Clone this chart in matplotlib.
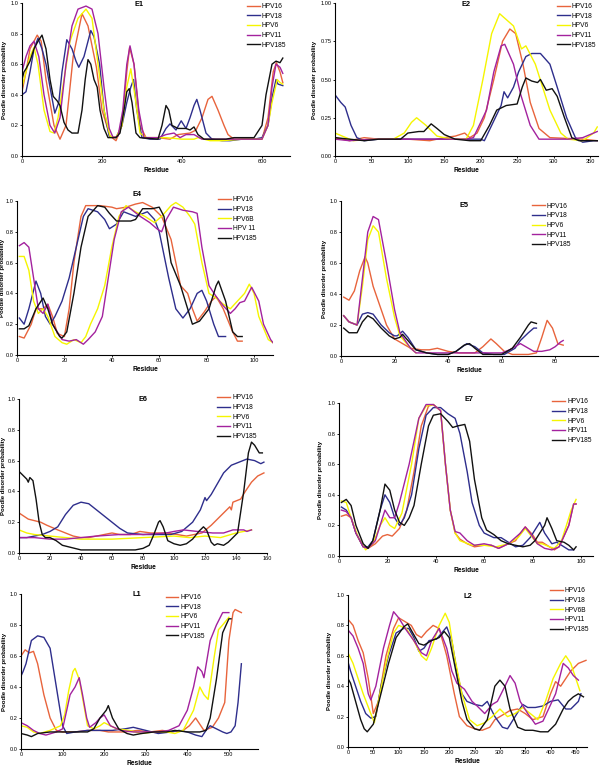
import matplotlib
matplotlib.use("Agg")
import matplotlib.pyplot as plt
from matplotlib.ticker import FormatStrFormatter

plt.rcParams["font.family"] = ["Liberation Sans", "DejaVu Sans"]

# ---------------- data (residue, disorder probability) ----------------
# E1
E1_X16 = [0, 10, 20, 38, 48, 60, 80, 95, 110, 128, 150, 165, 186, 200, 220, 235, 250, 262, 269, 280, 295, 310, 340, 370, 390, 420, 435, 450, 465, 475, 490, 505, 515, 530, 560, 600, 615, 628, 636, 645, 652]
E1_Y16 = [0.42, 0.55, 0.7, 0.79, 0.75, 0.5, 0.2, 0.11, 0.2, 0.65, 0.93, 0.85, 0.58, 0.3, 0.13, 0.1, 0.2, 0.55, 0.71, 0.6, 0.2, 0.12, 0.12, 0.11, 0.14, 0.15, 0.17, 0.25, 0.37, 0.39, 0.3, 0.2, 0.14, 0.11, 0.11, 0.11, 0.25, 0.55, 0.61, 0.55, 0.48]
E1_X18 = [0, 10, 20, 30, 40, 50, 60, 70, 82, 92, 100, 112, 125, 135, 142, 155, 165, 172, 180, 194, 205, 218, 235, 250, 262, 272, 279, 287, 300, 320, 345, 360, 370, 385, 398, 410, 420, 430, 437, 445, 460, 475, 500, 520, 550, 580, 600, 615, 625, 635, 640, 652]
E1_Y18 = [0.40, 0.42, 0.55, 0.7, 0.77, 0.7, 0.6, 0.45, 0.28, 0.35, 0.55, 0.76, 0.7, 0.62, 0.58, 0.65, 0.75, 0.82, 0.78, 0.6, 0.3, 0.13, 0.12, 0.2, 0.35, 0.45, 0.5, 0.3, 0.12, 0.11, 0.11, 0.18, 0.21, 0.17, 0.23, 0.18, 0.25, 0.33, 0.37, 0.3, 0.15, 0.11, 0.1, 0.1, 0.11, 0.11, 0.12, 0.2, 0.38, 0.5, 0.47, 0.46]
E1_X6 = [0, 10, 20, 30, 40, 55, 70, 80, 90, 105, 120, 140, 160, 175, 190, 205, 220, 235, 250, 262, 272, 282, 295, 310, 360, 400, 430, 440, 470, 500, 550, 600, 615, 625, 638, 645, 652]
E1_Y6 = [0.45, 0.55, 0.65, 0.71, 0.6, 0.3, 0.16, 0.15, 0.25, 0.5, 0.75, 0.9, 0.96, 0.9, 0.6, 0.3, 0.13, 0.12, 0.2, 0.45, 0.57, 0.4, 0.15, 0.12, 0.12, 0.11, 0.11, 0.12, 0.1, 0.1, 0.11, 0.11, 0.2, 0.35, 0.5, 0.48, 0.47]
E1_X11 = [0, 10, 20, 30, 42, 55, 70, 82, 95, 110, 125, 140, 160, 175, 190, 205, 218, 228, 240, 252, 262, 270, 280, 292, 305, 340, 360, 380, 395, 410, 430, 450, 500, 550, 600, 615, 625, 635, 645, 652]
E1_Y11 = [0.55, 0.65, 0.72, 0.75, 0.65, 0.4, 0.2, 0.15, 0.25, 0.6, 0.85, 0.96, 0.98, 0.96, 0.8, 0.45, 0.18, 0.12, 0.13, 0.3, 0.6, 0.72, 0.6, 0.3, 0.12, 0.12, 0.14, 0.15, 0.12, 0.14, 0.14, 0.11, 0.11, 0.11, 0.11, 0.2, 0.45, 0.6, 0.58, 0.54]
E1_X185 = [0, 5, 10, 20, 30, 40, 50, 60, 70, 78, 88, 95, 105, 115, 125, 140, 150, 158, 165, 172, 180, 188, 195, 205, 215, 235, 245, 255, 262, 268, 275, 285, 295, 340, 350, 360, 367, 375, 390, 410, 420, 430, 440, 455, 510, 530, 580, 600, 610, 625, 635, 645, 652]
E1_Y185 = [0.5, 0.55, 0.57, 0.62, 0.7, 0.75, 0.79, 0.7, 0.5, 0.39, 0.36, 0.33, 0.22, 0.17, 0.15, 0.15, 0.3, 0.5, 0.63, 0.6, 0.5, 0.45, 0.3, 0.18, 0.12, 0.12, 0.15, 0.3, 0.42, 0.44, 0.35, 0.15, 0.12, 0.11, 0.2, 0.33, 0.3, 0.2, 0.18, 0.18, 0.17, 0.19, 0.14, 0.11, 0.11, 0.12, 0.12, 0.2, 0.4, 0.6, 0.62, 0.61, 0.64]

# E2
E2_X16 = [0, 10, 20, 30, 40, 60, 100, 130, 150, 165, 178, 185, 195, 205, 218, 230, 240, 248, 258, 268, 280, 295, 340, 360]
E2_Y16 = [0.12, 0.11, 0.1, 0.11, 0.12, 0.11, 0.11, 0.1, 0.12, 0.13, 0.15, 0.12, 0.15, 0.25, 0.5, 0.75, 0.83, 0.8, 0.6, 0.35, 0.18, 0.12, 0.11, 0.1]
E2_X18 = [0, 8, 14, 22, 30, 40, 60, 120, 200, 205, 215, 225, 228, 232, 237, 245, 252, 262, 270, 282, 295, 305, 318, 330, 340, 355, 360]
E2_Y18 = [0.40, 0.35, 0.32, 0.2, 0.12, 0.10, 0.11, 0.11, 0.11, 0.1, 0.2, 0.3, 0.33, 0.42, 0.38, 0.45, 0.55, 0.65, 0.67, 0.67, 0.6, 0.45, 0.25, 0.12, 0.09, 0.1, 0.1]
E2_X6 = [0, 10, 25, 50, 80, 95, 105, 112, 125, 140, 160, 180, 190, 203, 215, 226, 245, 256, 262, 275, 295, 310, 320, 340, 355, 360]
E2_Y6 = [0.15, 0.13, 0.10, 0.11, 0.11, 0.15, 0.22, 0.25, 0.2, 0.13, 0.11, 0.11, 0.2, 0.5, 0.8, 0.93, 0.85, 0.7, 0.72, 0.6, 0.3, 0.15, 0.11, 0.1, 0.15, 0.19]
E2_X11 = [0, 20, 50, 180, 190, 208, 218, 228, 233, 245, 255, 268, 280, 320, 340, 355, 360]
E2_Y11 = [0.11, 0.10, 0.11, 0.11, 0.12, 0.3, 0.55, 0.72, 0.73, 0.6, 0.4, 0.2, 0.11, 0.11, 0.12, 0.15, 0.16]
E2_X185 = [0, 20, 40, 60, 90, 100, 115, 122, 132, 140, 150, 165, 185, 200, 212, 222, 235, 250, 257, 262, 270, 278, 282, 290, 298, 305, 315, 325, 335, 360]
E2_Y185 = [0.12, 0.11, 0.1, 0.11, 0.11, 0.15, 0.16, 0.16, 0.21, 0.18, 0.14, 0.11, 0.1, 0.1, 0.2, 0.3, 0.33, 0.34, 0.45, 0.51, 0.49, 0.48, 0.5, 0.43, 0.44, 0.39, 0.25, 0.12, 0.1, 0.1]

# E4
E4_X16 = [1, 3, 6, 8, 11, 13, 15, 17, 20, 22, 24, 27, 29, 35, 40, 42, 46, 50, 53, 57, 61, 65, 69, 72, 74, 76, 79, 82, 84, 87, 91, 93, 95]
E4_Y16 = [0.12, 0.11, 0.2, 0.3, 0.3, 0.33, 0.25, 0.14, 0.12, 0.3, 0.6, 0.9, 0.97, 0.97, 0.96, 0.95, 0.96, 0.98, 0.99, 0.96, 0.9, 0.75, 0.45, 0.4, 0.3, 0.22, 0.28, 0.35, 0.38, 0.3, 0.15, 0.09, 0.09]
E4_X18 = [1, 3, 5, 8, 10, 12, 14, 16, 19, 22, 25, 28, 30, 34, 37, 39, 42, 45, 50, 55, 58, 60, 62, 64, 67, 70, 73, 76, 78, 80, 83, 85, 88]
E4_Y18 = [0.24, 0.2, 0.3, 0.48, 0.4, 0.25, 0.2, 0.25, 0.35, 0.5, 0.7, 0.9, 0.95, 0.93, 0.88, 0.82, 0.85, 0.93, 0.9, 0.93, 0.88, 0.8, 0.65, 0.5, 0.3, 0.24, 0.3, 0.4, 0.42, 0.35, 0.2, 0.12, 0.12]
E4_X6 = [1, 3, 5, 7, 9, 11, 13, 16, 19, 21, 24, 27, 29, 31, 34, 37, 40, 43, 46, 50, 54, 58, 61, 65, 67, 70, 73, 75, 78, 81, 84, 87, 90, 93, 96, 98, 100, 102, 106, 108]
E4_Y6 = [0.64, 0.64, 0.55, 0.35, 0.27, 0.3, 0.25, 0.12, 0.08, 0.07, 0.1, 0.08, 0.12, 0.2, 0.3, 0.45, 0.7, 0.9, 0.97, 0.93, 0.9, 0.86, 0.9, 0.97, 0.99, 0.96, 0.9, 0.85, 0.6, 0.4, 0.37, 0.33, 0.3, 0.35, 0.4, 0.46, 0.4, 0.25, 0.1, 0.08]
E4_X11 = [1, 3, 5, 7, 9, 11, 13, 15, 19, 22, 25, 28, 30, 33, 36, 38, 41, 44, 47, 52, 56, 59, 61, 63, 66, 70, 74, 76, 78, 81, 84, 87, 90, 92, 94, 96, 99, 102, 104, 107, 108]
E4_Y11 = [0.71, 0.73, 0.7, 0.5, 0.3, 0.27, 0.33, 0.2, 0.1, 0.09, 0.1, 0.07, 0.1, 0.15, 0.25, 0.45, 0.75, 0.93, 0.96, 0.9, 0.86, 0.82, 0.8, 0.88, 0.96, 0.94, 0.93, 0.92, 0.7, 0.45, 0.38, 0.32, 0.27, 0.3, 0.34, 0.35, 0.44, 0.35, 0.2, 0.1, 0.08]
E4_X185 = [1, 3, 5, 8, 11, 13, 15, 18, 19, 21, 24, 27, 30, 34, 37, 39, 42, 45, 48, 50, 53, 57, 60, 62, 65, 69, 72, 74, 77, 81, 84, 85, 88, 91, 93, 95]
E4_Y185 = [0.17, 0.17, 0.19, 0.3, 0.37, 0.3, 0.2, 0.12, 0.11, 0.15, 0.4, 0.7, 0.9, 0.97, 0.96, 0.92, 0.87, 0.87, 0.87, 0.88, 0.95, 0.95, 0.96, 0.9, 0.6, 0.45, 0.3, 0.2, 0.22, 0.3, 0.45, 0.48, 0.35, 0.15, 0.12, 0.12]

# E5
E5_X16 = [1, 3, 5, 7, 9, 10, 12, 15, 17, 20, 23, 26, 30, 33, 36, 40, 44, 50, 53, 56, 58, 61, 64, 70, 73, 75, 77, 79, 81, 83]
E5_Y16 = [0.38, 0.36, 0.42, 0.55, 0.64, 0.6, 0.45, 0.3, 0.2, 0.11, 0.08, 0.05, 0.04, 0.04, 0.05, 0.03, 0.02, 0.02, 0.06, 0.11, 0.08, 0.03, 0.01, 0.01, 0.02, 0.12, 0.23, 0.18, 0.08, 0.07]
E5_X18 = [1, 3, 6, 8, 10, 12, 15, 18, 20, 21, 23, 25, 28, 32, 36, 40, 43, 47, 50, 53, 57, 61, 65, 67, 70, 72, 73]
E5_Y18 = [0.26, 0.22, 0.2, 0.27, 0.28, 0.27, 0.2, 0.15, 0.13, 0.13, 0.16, 0.12, 0.04, 0.02, 0.01, 0.01, 0.03, 0.08, 0.06, 0.02, 0.01, 0.01, 0.05, 0.1, 0.15, 0.18, 0.18]
E5_X6 = [1, 3, 6, 8, 10, 12, 14, 17, 20, 22, 24, 26, 28]
E5_Y6 = [0.26, 0.22, 0.2, 0.45, 0.75, 0.84, 0.8, 0.5, 0.25, 0.13, 0.09, 0.05, 0.02]
E5_X11 = [1, 3, 6, 8, 10, 12, 14, 17, 20, 22, 24, 26, 28, 40, 55, 60, 63, 65, 67, 69, 72, 75, 78, 80, 82, 83]
E5_Y11 = [0.26, 0.22, 0.2, 0.5, 0.8, 0.9, 0.88, 0.6, 0.3, 0.15, 0.1, 0.05, 0.02, 0.02, 0.02, 0.02, 0.04, 0.06, 0.08, 0.06, 0.03, 0.03, 0.04, 0.06, 0.09, 0.1]
E5_X185 = [1, 3, 6, 8, 10, 12, 15, 18, 20, 22, 23, 25, 28, 32, 36, 40, 43, 46, 48, 50, 53, 60, 64, 67, 70, 71, 73]
E5_Y185 = [0.18, 0.15, 0.15, 0.22, 0.26, 0.24, 0.18, 0.13, 0.11, 0.12, 0.14, 0.1, 0.04, 0.02, 0.01, 0.01, 0.03, 0.07, 0.08, 0.05, 0.01, 0.01, 0.05, 0.12, 0.2, 0.22, 0.21]

# E6
E6_X16 = [0, 3, 6, 10, 14, 18, 25, 30, 35, 40, 45, 50, 55, 60, 65, 72, 78, 85, 95, 102, 108, 113, 118, 124, 128, 132, 136, 137, 138, 143, 146, 150, 154, 158]
E6_Y16 = [0.26, 0.24, 0.22, 0.21, 0.2, 0.18, 0.15, 0.13, 0.11, 0.1, 0.1, 0.11, 0.12, 0.13, 0.12, 0.12, 0.14, 0.13, 0.13, 0.12, 0.11, 0.12, 0.13, 0.18, 0.22, 0.26, 0.3, 0.28, 0.33, 0.35, 0.4, 0.46, 0.5, 0.52]
E6_X18 = [0, 5, 10, 15, 20, 25, 30, 35, 40, 45, 50, 55, 60, 65, 70, 80, 90, 98, 105, 112, 117, 120, 121, 124, 128, 132, 137, 142, 147, 152, 156, 158]
E6_Y18 = [0.1, 0.1, 0.11, 0.12, 0.14, 0.17, 0.25, 0.31, 0.33, 0.32, 0.28, 0.24, 0.2, 0.16, 0.13, 0.12, 0.12, 0.12, 0.14, 0.2, 0.28, 0.36, 0.34, 0.38, 0.45, 0.52, 0.57, 0.59, 0.61, 0.6, 0.58, 0.59]
E6_X6 = [0, 5, 10, 20, 30, 40, 60, 80, 100, 110, 120, 130, 140, 150]
E6_Y6 = [0.15, 0.13, 0.12, 0.11, 0.1, 0.09, 0.09, 0.1, 0.11, 0.1, 0.11, 0.1, 0.13, 0.15]
E6_X11 = [0, 10, 20, 30, 40, 50, 65, 80, 95, 100, 106, 115, 125, 132, 138, 145, 147, 150]
E6_Y11 = [0.1, 0.1, 0.09, 0.09, 0.1, 0.11, 0.12, 0.12, 0.13, 0.14, 0.15, 0.14, 0.13, 0.13, 0.15, 0.15, 0.14, 0.15]
E6_X185 = [0, 3, 5, 6, 7, 9, 11, 13, 15, 17, 20, 24, 28, 32, 36, 40, 50, 60, 70, 75, 80, 84, 87, 90, 91, 93, 96, 100, 104, 108, 112, 116, 119, 121, 124, 126, 128, 132, 135, 138, 141, 145, 148, 150, 152, 155, 157]
E6_Y185 = [0.53, 0.5, 0.48, 0.46, 0.49, 0.47, 0.35, 0.2, 0.12, 0.1, 0.1, 0.08, 0.05, 0.04, 0.03, 0.02, 0.02, 0.02, 0.02, 0.02, 0.03, 0.05, 0.12, 0.2, 0.21, 0.17, 0.08, 0.06, 0.05, 0.06, 0.09, 0.14, 0.17, 0.15, 0.07, 0.05, 0.06, 0.05, 0.07, 0.1, 0.13, 0.4, 0.65, 0.72, 0.7, 0.65, 0.65]

# E7
E7_X16 = [1, 3, 5, 7, 10, 12, 15, 18, 20, 22, 25, 28, 31, 34, 37, 39, 42, 44, 46, 48, 50, 53, 56, 60, 63, 66, 70, 73, 75, 77, 80, 82, 84, 87, 89, 91, 95, 97, 98]
E7_Y16 = [0.26, 0.27, 0.25, 0.15, 0.06, 0.05, 0.08, 0.13, 0.14, 0.13, 0.18, 0.3, 0.55, 0.85, 0.98, 0.99, 0.95, 0.6, 0.3, 0.15, 0.11, 0.08, 0.06, 0.07, 0.07, 0.05, 0.08, 0.1, 0.15, 0.19, 0.14, 0.09, 0.09, 0.06, 0.04, 0.06, 0.2, 0.34, 0.34]
E7_X18 = [1, 3, 5, 7, 10, 12, 14, 17, 19, 21, 23, 25, 27, 30, 33, 36, 39, 42, 45, 48, 50, 53, 55, 58, 60, 64, 67, 70, 73, 76, 79, 83, 85, 88, 90, 95, 97]
E7_Y18 = [0.32, 0.3, 0.25, 0.15, 0.06, 0.06, 0.1, 0.3, 0.4, 0.35, 0.25, 0.2, 0.25, 0.4, 0.7, 0.92, 0.97, 0.97, 0.93, 0.9, 0.8, 0.55, 0.35, 0.2, 0.15, 0.12, 0.12, 0.09, 0.06, 0.07, 0.12, 0.22, 0.15, 0.08, 0.09, 0.04, 0.04]
E7_X6 = [1, 3, 5, 8, 11, 14, 17, 19, 21, 23, 26, 30, 33, 36, 39, 42, 44, 46, 48, 50, 55, 60, 65, 70, 74, 77, 80, 82, 84, 87, 89, 92, 96, 98]
E7_Y6 = [0.36, 0.35, 0.25, 0.12, 0.04, 0.08, 0.2, 0.25, 0.2, 0.18, 0.28, 0.6, 0.9, 0.98, 0.99, 0.95, 0.6, 0.3, 0.15, 0.1, 0.07, 0.07, 0.06, 0.08, 0.12, 0.18, 0.12, 0.08, 0.08, 0.06, 0.05, 0.1, 0.3, 0.37]
E7_X11 = [1, 3, 5, 7, 10, 12, 15, 18, 19, 21, 23, 25, 29, 33, 36, 39, 42, 44, 46, 48, 50, 53, 56, 60, 63, 66, 70, 75, 77, 79, 82, 85, 88, 91, 95, 97, 98]
E7_Y11 = [0.3, 0.29, 0.25, 0.15, 0.06, 0.05, 0.1, 0.25, 0.3, 0.25, 0.25, 0.35, 0.6, 0.9, 0.99, 0.99, 0.95, 0.6, 0.3, 0.16, 0.15, 0.1, 0.07, 0.08, 0.07, 0.05, 0.08, 0.15, 0.19, 0.15, 0.08, 0.05, 0.04, 0.06, 0.2, 0.34, 0.34]
E7_X185 = [1, 3, 5, 7, 10, 12, 14, 17, 19, 21, 23, 25, 27, 29, 31, 34, 37, 39, 42, 45, 47, 49, 52, 54, 56, 59, 61, 64, 67, 70, 73, 76, 79, 81, 85, 86, 88, 90, 93, 95, 97, 98]
E7_Y185 = [0.35, 0.37, 0.33, 0.2, 0.08, 0.05, 0.1, 0.3, 0.47, 0.43, 0.3, 0.22, 0.2, 0.25, 0.33, 0.6, 0.85, 0.92, 0.93, 0.88, 0.84, 0.85, 0.86, 0.75, 0.5, 0.25, 0.17, 0.14, 0.1, 0.08, 0.07, 0.06, 0.07, 0.1, 0.2, 0.25, 0.18, 0.1, 0.09, 0.07, 0.04, 0.06]

# L1
L1_X16 = [0, 10, 20, 30, 40, 55, 70, 85, 100, 130, 160, 190, 210, 250, 280, 310, 340, 360, 390, 405, 420, 425, 440, 460, 475, 490, 500, 510, 515, 530]
L1_Y16 = [0.6, 0.64, 0.62, 0.63, 0.55, 0.35, 0.2, 0.12, 0.11, 0.11, 0.12, 0.12, 0.11, 0.11, 0.12, 0.11, 0.12, 0.11, 0.12, 0.15, 0.2, 0.18, 0.12, 0.14, 0.2, 0.3, 0.7, 0.88, 0.9, 0.88]
L1_X18 = [0, 5, 12, 25, 40, 55, 70, 85, 100, 110, 130, 160, 190, 220, 250, 270, 300, 330, 360, 380, 400, 420, 435, 445, 455, 470, 485, 495, 505, 515, 522, 530]
L1_Y18 = [0.47, 0.5, 0.55, 0.7, 0.73, 0.72, 0.65, 0.4, 0.15, 0.1, 0.11, 0.12, 0.12, 0.12, 0.13, 0.14, 0.12, 0.1, 0.11, 0.12, 0.11, 0.09, 0.08, 0.12, 0.15, 0.13, 0.11, 0.1, 0.11, 0.15, 0.3, 0.55]
L1_X6 = [0, 15, 30, 45, 70, 95, 105, 115, 125, 130, 140, 150, 160, 175, 190, 200, 215, 230, 260, 290, 320, 350, 370, 390, 415, 430, 440, 450, 465, 475, 485, 500]
L1_Y6 = [0.15, 0.14, 0.11, 0.1, 0.12, 0.15, 0.22, 0.38, 0.5, 0.52, 0.45, 0.3, 0.15, 0.13, 0.15, 0.17, 0.15, 0.13, 0.12, 0.1, 0.11, 0.11, 0.1, 0.12, 0.25, 0.4, 0.35, 0.32, 0.6, 0.77, 0.8, 0.85]
L1_X11 = [0, 15, 30, 45, 60, 85, 100, 110, 118, 130, 140, 148, 158, 165, 180, 190, 200, 215, 240, 270, 300, 330, 355, 380, 400, 415, 425, 435, 440, 455, 470, 485, 500]
L1_Y11 = [0.17, 0.15, 0.12, 0.1, 0.09, 0.11, 0.13, 0.25, 0.35, 0.4, 0.46, 0.35, 0.2, 0.14, 0.17, 0.2, 0.22, 0.15, 0.12, 0.11, 0.11, 0.11, 0.12, 0.15, 0.25, 0.4, 0.53, 0.5, 0.46, 0.7, 0.8, 0.88, 0.88]
L1_X185 = [0, 15, 25, 40, 70, 100, 130, 160, 175, 190, 205, 210, 220, 235, 255, 270, 290, 320, 350, 370, 400, 430, 445, 455, 470, 485, 500, 505]
L1_Y185 = [0.1, 0.09, 0.08, 0.1, 0.11, 0.11, 0.11, 0.11, 0.13, 0.2, 0.25, 0.28, 0.2, 0.13, 0.1, 0.09, 0.1, 0.11, 0.11, 0.12, 0.11, 0.11, 0.12, 0.2, 0.45, 0.75, 0.84, 0.84]

# L2
L2_X16 = [0, 10, 20, 30, 40, 50, 60, 75, 90, 100, 110, 125, 135, 145, 155, 168, 180, 195, 210, 220, 235, 250, 265, 280, 290, 305, 320, 335, 350, 365, 385, 400, 410, 420, 430, 440, 455, 470]
L2_Y16 = [0.84, 0.8, 0.7, 0.62, 0.45, 0.22, 0.3, 0.6, 0.78, 0.85, 0.83, 0.8, 0.74, 0.72, 0.76, 0.8, 0.78, 0.6, 0.35, 0.2, 0.14, 0.12, 0.11, 0.13, 0.18, 0.21, 0.24, 0.25, 0.22, 0.18, 0.2, 0.35, 0.43, 0.4, 0.45, 0.5, 0.55, 0.57]
L2_X18 = [0, 5, 15, 25, 35, 45, 55, 65, 80, 95, 110, 120, 130, 140, 150, 160, 175, 185, 195, 205, 215, 225, 235, 250, 265, 275, 290, 305, 315, 330, 345, 355, 370, 385, 400, 415, 430, 440, 455, 460]
L2_Y18 = [0.56, 0.5, 0.4, 0.3, 0.22, 0.19, 0.2, 0.4, 0.6, 0.75, 0.78, 0.78, 0.72, 0.63, 0.65, 0.7, 0.71, 0.75, 0.79, 0.7, 0.5, 0.35, 0.3, 0.28, 0.27, 0.3, 0.2, 0.13, 0.12, 0.2, 0.28, 0.26, 0.26, 0.27, 0.3, 0.31, 0.25, 0.25, 0.3, 0.35]
L2_X6 = [0, 10, 20, 30, 45, 52, 60, 75, 90, 100, 115, 130, 145, 155, 165, 180, 192, 200, 210, 225, 240, 255, 270, 285, 300, 315, 330, 345, 360, 375, 390, 405, 420, 430, 440, 450, 458]
L2_Y6 = [0.62, 0.55, 0.45, 0.35, 0.22, 0.16, 0.3, 0.55, 0.75, 0.8, 0.78, 0.7, 0.6, 0.57, 0.65, 0.8, 0.88, 0.82, 0.6, 0.35, 0.18, 0.14, 0.16, 0.2, 0.25, 0.2, 0.22, 0.26, 0.22, 0.18, 0.3, 0.45, 0.55, 0.6, 0.55, 0.45, 0.37]
L2_X11 = [0, 10, 20, 30, 40, 45, 55, 70, 82, 90, 100, 115, 130, 145, 155, 165, 180, 195, 205, 215, 230, 245, 255, 270, 285, 295, 310, 320, 330, 340, 355, 370, 385, 410, 425, 435, 445, 455]
L2_Y11 = [0.77, 0.73, 0.65, 0.55, 0.35, 0.31, 0.4, 0.65, 0.8, 0.89, 0.85, 0.77, 0.7, 0.62, 0.6, 0.7, 0.78, 0.65, 0.5, 0.42, 0.38, 0.3, 0.27, 0.22, 0.28, 0.3, 0.4, 0.47, 0.42, 0.3, 0.22, 0.15, 0.17, 0.35, 0.55, 0.52, 0.47, 0.44]
L2_X185 = [0, 5, 15, 25, 32, 38, 50, 65, 80, 95, 110, 118, 128, 140, 150, 165, 180, 190, 200, 210, 225, 235, 250, 260, 275, 290, 300, 310, 320, 335, 350, 365, 380, 395, 410, 425, 435, 445, 455, 465]
L2_Y185 = [0.45, 0.42, 0.3, 0.18, 0.12, 0.1, 0.15, 0.35, 0.55, 0.72, 0.79, 0.81, 0.75, 0.68, 0.67, 0.7, 0.72, 0.76, 0.72, 0.55, 0.3, 0.18, 0.12, 0.11, 0.18, 0.4, 0.44, 0.4, 0.25, 0.13, 0.11, 0.11, 0.1, 0.1, 0.15, 0.25, 0.3, 0.33, 0.35, 0.33]

LABELS_A = ["HPV16", "HPV18", "HPV6", "HPV11", "HPV185"]
LABELS_E4 = ["HPV16", "HPV18", "HPV6B", "HPV 11", "HPV185"]
LABELS_L2 = ["HPV16", "HPV18", "HPV6B", "HPV11", "HPV185"]
COLORS = ["#E8643C", "#2E2E8C", "#F5F500", "#A3229E", "#111111"]

W, H = 600, 767
fig = plt.figure(figsize=(W / 100, H / 100), dpi=100)


def panel(box, name, series, labels, xlim, xticks, yfmt, yticks, title_xy, leg_xy, ylab_px):
    l, t, r, b = box
    ax = fig.add_axes([l / W, 1 - b / H, (r - l) / W, (b - t) / H])
    for (x, y), lab, c in zip(series, labels, COLORS):
        ax.plot(x, y, color=c, lw=1.0, label=lab)
    ax.set_xlim(*xlim)
    ax.set_ylim(0, 1.0)
    ax.set_xticks(xticks)
    ax.set_yticks(yticks)
    ax.yaxis.set_major_formatter(FormatStrFormatter(yfmt))
    for s in ["top", "right"]:
        ax.spines[s].set_visible(False)
    for s in ["left", "bottom"]:
        ax.spines[s].set_linewidth(0.8)
    ax.tick_params(labelsize=4.1, length=1.6, width=0.6, pad=0.9)
    ax.set_xlabel("Residue", fontsize=4.8, fontweight="bold", labelpad=1.5)
    ax.set_ylabel("Poodle disorder probability", fontsize=4.3, fontweight="bold")
    ax.yaxis.set_label_coords((ylab_px - l) / (r - l), 0.5)
    ax.text(title_xy[0], title_xy[1], name, transform=ax.transAxes, fontsize=5.3,
            fontweight="bold", ha="center", va="center")
    ax.legend(loc="upper left", bbox_to_anchor=leg_xy, frameon=False, fontsize=4.8,
              handlelength=1.9, handletextpad=0.3, labelspacing=0.4, borderpad=0,
              borderaxespad=0)
    return ax


Y1 = [0, 0.2, 0.4, 0.6, 0.8, 1.0]

panel((22, 3, 290, 156), "E1",
      [(E1_X16, E1_Y16), (E1_X18, E1_Y18), (E1_X6, E1_Y6), (E1_X11, E1_Y11), (E1_X185, E1_Y185)],
      LABELS_A, (0, 670), [0, 200, 400, 600], "%.1f", Y1, (0.437, 0.99), (0.84, 1.0), 7)
panel((335, 3, 598, 156), "E2",
      [(E2_X16, E2_Y16), (E2_X18, E2_Y18), (E2_X6, E2_Y6), (E2_X11, E2_Y11), (E2_X185, E2_Y185)],
      LABELS_A, (0, 361), list(range(0, 351, 50)), "%.2f", [0, 0.25, 0.5, 0.75, 1.0],
      (0.5, 0.99), (0.845, 1.0), 317)
panel((17, 201, 273, 355), "E4",
      [(E4_X16, E4_Y16), (E4_X18, E4_Y18), (E4_X6, E4_Y6), (E4_X11, E4_Y11), (E4_X185, E4_Y185)],
      LABELS_E4, (0, 108), list(range(0, 101, 20)), "%.1f", Y1, (0.47, 1.045), (0.785, 1.03), 5.5)
panel((341, 201, 598, 356), "E5",
      [(E5_X16, E5_Y16), (E5_X18, E5_Y18), (E5_X6, E5_Y6), (E5_X11, E5_Y11), (E5_X185, E5_Y185)],
      LABELS_A, (0, 96), list(range(0, 81, 20)), "%.1f", Y1, (0.48, 0.97), (0.743, 0.99), 327)
panel((19, 399, 267, 553), "E6",
      [(E6_X16, E6_Y16), (E6_X18, E6_Y18), (E6_X6, E6_Y6), (E6_X11, E6_Y11), (E6_X185, E6_Y185)],
      LABELS_A, (0, 160), list(range(0, 161, 20)), "%.1f", Y1, (0.5, 1.0), (0.8, 1.03), 6.5)
panel((339, 403, 593, 556), "E7",
      [(E7_X16, E7_Y16), (E7_X18, E7_Y18), (E7_X6, E7_Y6), (E7_X11, E7_Y11), (E7_X185, E7_Y185)],
      LABELS_A, (0, 105), list(range(0, 101, 20)), "%.1f", Y1, (0.51, 1.02), (0.84, 1.03), 323)
panel((21, 594, 258, 749), "L1",
      [(L1_X16, L1_Y16), (L1_X18, L1_Y18), (L1_X6, L1_Y6), (L1_X11, L1_Y11), (L1_X185, L1_Y185)],
      LABELS_A, (0, 570), list(range(0, 501, 100)), "%.1f", Y1, (0.49, 1.0), (0.61, 1.0), 7)
panel((348, 595, 587, 747), "L2",
      [(L2_X16, L2_Y16), (L2_X18, L2_Y18), (L2_X6, L2_Y6), (L2_X11, L2_Y11), (L2_X185, L2_Y185)],
      LABELS_L2, (0, 472), list(range(0, 451, 50)), "%.1f", Y1, (0.5, 0.99), (0.845, 1.05), 332)

fig.savefig("out.png", dpi=100)
